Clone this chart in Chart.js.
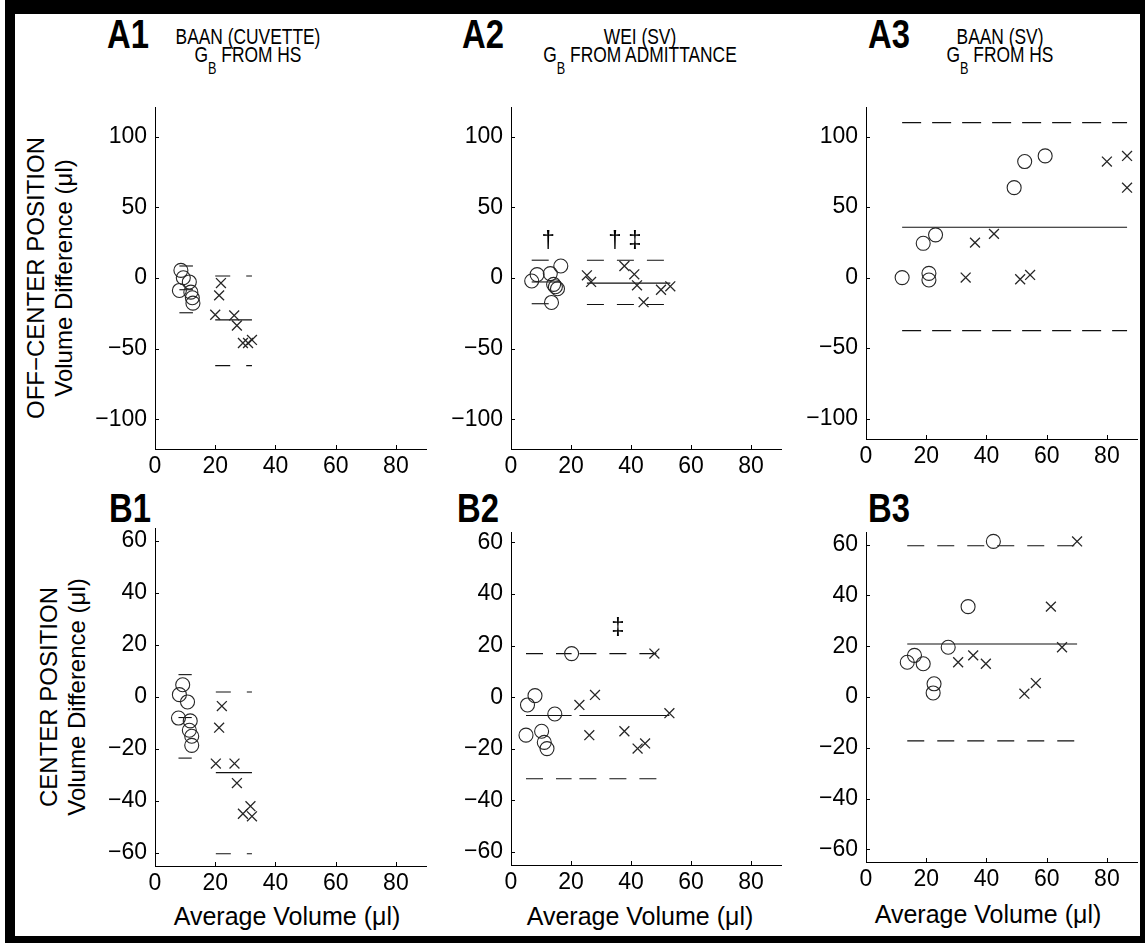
<!DOCTYPE html>
<html><head><meta charset="utf-8">
<script src="https://cdn.jsdelivr.net/npm/chart.js@4.4.0/dist/chart.umd.min.js"></script>
<style>
html,body{margin:0;padding:0;background:#fff;width:1145px;height:943px;overflow:hidden;position:relative;font-family:"Liberation Sans",Arial,sans-serif;color:#000;}
#frame{position:absolute;left:5px;top:0;width:1140px;height:943px;background:#000;}
#inner{position:absolute;left:15px;top:14px;width:1125px;height:922px;background:#fff;}
canvas{position:absolute;}
.lbl{position:absolute;font-family:"Liberation Sans",sans-serif;font-weight:bold;font-size:40px;line-height:40px;white-space:nowrap;transform:scaleX(0.82);transform-origin:0 0;}
.ttl{position:absolute;width:300px;text-align:center;font-family:"Liberation Sans",sans-serif;font-size:22px;line-height:18px;white-space:nowrap;transform:scaleX(0.79);transform-origin:50% 0;}
.ttl sub{font-size:16px;vertical-align:-12px;line-height:0;}
.xl{position:absolute;width:300px;text-align:center;font-size:25px;line-height:25px;white-space:nowrap;}
.yl{position:absolute;width:400px;height:56px;text-align:center;font-size:24px;line-height:28px;transform:rotate(-90deg);white-space:nowrap;}
</style></head>
<body>
<div id="frame"></div><div id="inner"></div>

<div class="lbl" style="left:107px;top:14px;">A1</div>
<div class="lbl" style="left:462px;top:14px;">A2</div>
<div class="lbl" style="left:868px;top:14px;">A3</div>
<div class="lbl" style="left:109px;top:488px;">B1</div>
<div class="lbl" style="left:457px;top:488px;">B2</div>
<div class="lbl" style="left:868px;top:488px;">B3</div>

<div class="ttl" style="left:98px;top:28px;">BAAN (CUVETTE)<br>G<sub>B</sub> FROM HS</div>
<div class="ttl" style="left:490px;top:28px;">WEI (SV)<br>G<sub>B</sub> FROM ADMITTANCE</div>
<div class="ttl" style="left:850px;top:28px;">BAAN (SV)<br>G<sub>B</sub> FROM HS</div>

<div class="yl" style="left:-150px;top:250px;">OFF−CENTER POSITION<br>Volume Difference (μl)</div>
<div class="yl" style="left:-137px;top:669px;">CENTER POSITION<br>Volume Difference (μl)</div>

<div class="xl" style="left:137px;top:904px;">Average Volume (μl)</div>
<div class="xl" style="left:490px;top:904px;">Average Volume (μl)</div>
<div class="xl" style="left:838px;top:902px;">Average Volume (μl)</div>

<script>
// ---------- shared ticks ----------
const xTicks = [0, 20, 40, 60, 80];
const aYTicks = [-100, -50, 0, 50, 100];
const bYTicks = [-60, -40, -20, 0, 20, 40, 60];

// ---------- A1 : BAAN (cuvette), off-centre ----------
const a1CircX  = [8.6, 9.4, 8.1, 11.4, 11.9, 12.4, 12.6];
const a1CircY  = [5.4, 0.2, -8.8, -2.8, -10.0, -14.0, -17.8];
const a1CircLim = [-8.3, 8.5, -24.6];          // mean, upper, lower
const a1CrossX = [21.9, 21.3, 20.0, 26.3, 27.2, 29.2, 30.9, 32.2];
const a1CrossY = [-3.6, -12.3, -26.0, -26.5, -33.6, -46.0, -46.0, -43.8];
const a1CrossLim = [-29.6, 1.4, -62.0];

// ---------- A2 : WEI (SV), off-centre ----------
const a2CircX  = [6.9, 8.7, 13.1, 16.6, 14.2, 14.8, 15.5, 13.5];
const a2CircY  = [-2.1, 2.4, 3.1, 8.5, -4.5, -6.2, -7.6, -17.3];
const a2CircLim = [-2.8, 12.6, -18.2];
const a2CrossX = [25.3, 26.7, 37.8, 41.1, 42.0, 44.2, 50.0, 53.1];
const a2CrossY = [1.9, -2.8, 8.5, 2.6, -5.2, -17.1, -8.3, -5.9];
const a2CrossLim = [-3.6, 12.6, -18.7];
const a2MarkX = [12.4, 34.6, 41.3];
const a2MarkY = [26.5, 26.5, 26.5];
const a2MarkT = ['†', '†', '‡'];

// ---------- A3 : BAAN (SV), off-centre ----------
const a3CircX  = [12.0, 19.0, 23.1, 20.9, 20.9, 49.2, 52.7, 59.5];
const a3CircY  = [0.0, 24.3, 30.3, 3.0, -1.7, 63.8, 82.3, 86.3];
const a3CrossX = [33.1, 36.2, 42.5, 51.2, 54.5, 80.0, 86.7, 86.7];
const a3CrossY = [0.0, 24.8, 31.0, -1.2, 1.9, 82.3, 86.3, 63.8];
const a3Lim = [35.7, 109.9, -37.6];

// ---------- B1 : BAAN (cuvette), centre ----------
const b1CircX  = [9.2, 8.1, 10.8, 7.8, 11.7, 11.4, 12.2, 12.2];
const b1CircY  = [4.7, 0.9, -1.9, -8.1, -9.2, -12.8, -15.1, -18.6];
const b1CircLim = [-7.9, 8.6, -23.5];
const b1CrossX = [22.2, 21.3, 20.2, 26.4, 27.2, 29.2, 31.7, 32.2];
const b1CrossY = [-3.5, -11.8, -25.6, -25.6, -33.1, -44.9, -42.0, -45.9];
const b1CrossLim = [-29.1, 1.9, -60.3];

// ---------- B2 : WEI (SV), centre ----------
const b2CircX  = [5.5, 8.0, 14.6, 5.0, 10.2, 11.1, 12.0, 20.2];
const b2CircY  = [-3.0, 0.6, -6.5, -14.7, -13.2, -17.5, -19.9, 16.9];
const b2CircLim = [-7.1, 16.9, -31.6];
const b2CrossX = [22.8, 28.0, 26.1, 37.8, 42.2, 44.7, 47.8, 52.8];
const b2CrossY = [-3.0, 0.9, -14.7, -13.2, -19.9, -17.9, 16.9, -6.2];
const b2CrossLim = [-7.1, 16.9, -31.6];
const b2MarkX = [35.6];
const b2MarkY = [27.2];
const b2MarkT = ['‡'];

// ---------- B3 : BAAN (SV), centre ----------
const b3CircX  = [13.7, 16.1, 19.0, 22.6, 22.3, 27.3, 33.9, 42.3];
const b3CircY  = [13.7, 16.4, 13.1, 5.2, 1.6, 19.6, 35.6, 61.3];
const b3CrossX = [30.6, 35.6, 39.8, 52.6, 56.4, 61.4, 65.1, 70.1];
const b3CrossY = [13.7, 16.4, 13.1, 1.3, 5.5, 35.6, 19.6, 61.3];
const b3Lim = [20.9, 59.6, -17.3];

// ---------- helpers ----------
const INK = '#262626';
const fmt = v => (v < 0 ? '\u2212' + Math.abs(v) : String(v));
const pts = (xs, ys) => xs.map((x, i) => ({x, y: ys[i]}));

function markers(xs, ys, style) {
  return {data: pts(xs, ys), pointStyle: style, pointRadius: 7, pointHoverRadius: 7,
    pointBorderColor: INK, pointBackgroundColor: 'rgba(0,0,0,0)', pointBorderWidth: style === 'circle' ? 1.1 : 1.3,
    showLine: false, order: 1};
}
function limitLines(xs, lim, dash) {
  const x0 = Math.min(...xs), x1 = Math.max(...xs);
  const mk = (y, d) => ({data: [{x: x0, y}, {x: x1, y}], showLine: true, pointRadius: 0, pointHoverRadius: 0,
    borderColor: '#111', borderWidth: 1.1, borderDash: d, fill: false, order: 2});
  return [mk(lim[0], []), mk(lim[1], dash), mk(lim[2], dash)];
}

const inTicks = {
  id: 'inTicks',
  afterDraw(chart) {
    const {ctx, chartArea: a, scales: {x, y}} = chart;
    ctx.save(); ctx.strokeStyle = '#000'; ctx.lineWidth = 1; ctx.beginPath();
    x.ticks.forEach(t => { const p = Math.round(x.getPixelForValue(t.value)) + 0.5; ctx.moveTo(p, a.bottom); ctx.lineTo(p, a.bottom - 4); });
    y.ticks.forEach(t => { const p = Math.round(y.getPixelForValue(t.value)) + 0.5; ctx.moveTo(a.left, p); ctx.lineTo(a.left + 4, p); });
    ctx.stroke(); ctx.restore();
  }
};

function panel(p) {
  const padL = 72, padT = 26, padR = 22, padB = 42;
  const L = Math.round(p.L), T = Math.round(p.T), R = Math.round(p.R), B = Math.round(p.B);
  const w = (R - L) + padL + padR, h = (B - T) + padT + padB;
  const c = document.createElement('canvas');
  c.width = w; c.height = h;
  c.style.left = (L - padL) + 'px'; c.style.top = (T - padT) + 'px';
  c.style.width = w + 'px'; c.style.height = h + 'px';
  document.body.appendChild(c);
  const marks = {
    id: 'marks',
    afterDatasetsDraw(chart) {
      if (!p.marks) return;
      const {ctx, scales: {x, y}} = chart;
      ctx.save(); ctx.fillStyle = '#000'; ctx.font = '24px "Liberation Sans"';
      ctx.textAlign = 'center'; ctx.textBaseline = 'middle';
      p.marks.x.forEach((mx, i) => ctx.fillText(p.marks.t[i], x.getPixelForValue(mx), y.getPixelForValue(p.marks.y[i])));
      ctx.restore();
    }
  };
  const tickFont = {family: 'Liberation Sans', size: 23};
  new Chart(c, {
    type: 'scatter',
    data: {datasets: p.datasets},
    options: {
      responsive: false, animation: false, devicePixelRatio: 1,
      layout: {padding: {left: 0, top: padT, right: padR, bottom: 0}},
      plugins: {legend: {display: false}, tooltip: {enabled: false}},
      events: [],
      scales: {
        x: {type: 'linear', min: 0, max: 90,
          afterBuildTicks: s => { s.ticks = xTicks.map(v => ({value: v})); },
          afterFit: s => { s.height = padB; },
          grid: {display: false, drawTicks: false},
          border: {display: true, color: '#000', width: 1},
          ticks: {color: '#000', font: tickFont, padding: 4, autoSkip: false, maxRotation: 0, callback: fmt}},
        y: {type: 'linear', min: p.ymin, max: p.ymax,
          afterBuildTicks: s => { s.ticks = p.yTicks.map(v => ({value: v})); },
          afterFit: s => { s.width = padL; },
          grid: {display: false, drawTicks: false},
          border: {display: true, color: '#000', width: 1},
          ticks: {color: '#000', font: tickFont, padding: 8, autoSkip: false, callback: fmt}}
      }
    },
    plugins: [inTicks, marks]
  });
}

const D17 = [17, 13];

panel({L: 155, T: 107, R: 426, B: 449, ymin: -121, ymax: 121, yTicks: aYTicks, datasets: [
  ...limitLines(a1CircX, a1CircLim, [15, 15]), ...limitLines(a1CrossX, a1CrossLim, [15, 16]),
  markers(a1CircX, a1CircY, 'circle'), markers(a1CrossX, a1CrossY, 'crossRot')]});

panel({L: 511, T: 107, R: 781, B: 449, ymin: -121, ymax: 121, yTicks: aYTicks,
  marks: {x: a2MarkX, y: a2MarkY, t: a2MarkT}, datasets: [
  ...limitLines(a2CircX, a2CircLim, D17), ...limitLines(a2CrossX, a2CrossLim, D17),
  markers(a2CircX, a2CircY, 'circle'), markers(a2CrossX, a2CrossY, 'crossRot')]});

panel({L: 866, T: 107, R: 1137, B: 439, ymin: -114.5, ymax: 121, yTicks: aYTicks, datasets: [
  ...limitLines(a3CircX.concat(a3CrossX), a3Lim, [19, 11]),
  markers(a3CircX, a3CircY, 'circle'), markers(a3CrossX, a3CrossY, 'crossRot')]});

panel({L: 155, T: 528, R: 426, B: 866, ymin: -65, ymax: 65, yTicks: bYTicks, datasets: [
  ...limitLines(b1CircX, b1CircLim, [15, 15]), ...limitLines(b1CrossX, b1CrossLim, [15, 16]),
  markers(b1CircX, b1CircY, 'circle'), markers(b1CrossX, b1CrossY, 'crossRot')]});

panel({L: 511, T: 532, R: 781, B: 865, ymin: -65, ymax: 64, yTicks: bYTicks,
  marks: {x: b2MarkX, y: b2MarkY, t: b2MarkT}, datasets: [
  ...limitLines(b2CircX, b2CircLim, D17), ...limitLines(b2CrossX, b2CrossLim, D17),
  markers(b2CircX, b2CircY, 'circle'), markers(b2CrossX, b2CrossY, 'crossRot')]});

panel({L: 866, T: 532, R: 1137, B: 862, ymin: -65, ymax: 65, yTicks: bYTicks, datasets: [
  ...limitLines(b3CircX.concat(b3CrossX), b3Lim, D17),
  markers(b3CircX, b3CircY, 'circle'), markers(b3CrossX, b3CrossY, 'crossRot')]});
</script>
</body></html>
